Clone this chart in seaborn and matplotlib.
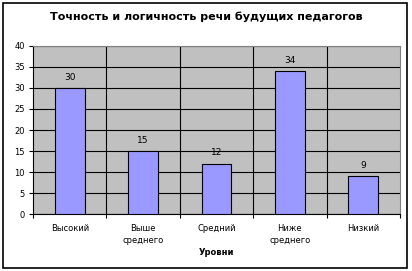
import matplotlib
matplotlib.use("Agg")
import matplotlib.pyplot as plt
import seaborn as sns
import pandas as pd
import numpy as np
from matplotlib.patches import Rectangle

categories = ["Высокий", "Выше\nсреднего", "Средний", "Ниже\nсреднего", "Низкий"]
values = [30, 15, 12, 34, 9]
title = "Точность и логичность речи будущих педагогов"
xlabel = "Уровни"
yticks = [0, 5, 10, 15, 20, 25, 30, 35, 40]

sns.set_style("white")
plt.rcParams['font.family'] = ['DejaVu Sans']
plt.rcParams['text.color'] = 'black'
plt.rcParams['axes.labelcolor'] = 'black'
plt.rcParams['xtick.color'] = 'black'
plt.rcParams['ytick.color'] = 'black'

df = pd.DataFrame({"cat": categories, "val": values})

fig = plt.figure(figsize=(4.12, 2.71), dpi=100)
ax = fig.add_axes([33/412, 1 - 214.3/271, 367/412, (214.3 - 45.7)/271])

sns.barplot(data=df, x="cat", y="val", color="#9999FF", width=0.405,
            saturation=1, edgecolor="black", linewidth=0.8, ax=ax, zorder=3)

ax.set_facecolor("#C0C0C0")
ax.set_ylim(0, 40)
ax.set_xlim(-0.5, len(categories) - 0.5)
ax.set_yticks(yticks)
ax.set_yticklabels([str(t) for t in yticks], fontsize=6)
ax.yaxis.grid(True, color="black", linewidth=0.8, zorder=1)
ax.set_axisbelow(True)
for b in np.arange(0.5, len(categories) - 0.5, 1.0):
    ax.axvline(b, color="black", linewidth=0.8, zorder=1)

ax.set_xticks(range(len(categories)))
ax.set_xticklabels(categories, fontsize=6, linespacing=1.4)
ax.set_xticks(np.arange(-0.5, len(categories), 1.0), minor=True)
ax.tick_params(axis="x", which="major", length=0, pad=7, bottom=True)
ax.tick_params(axis="x", which="minor", length=3, width=0.8, direction="out", color="black", bottom=True)
ax.tick_params(axis="y", which="major", length=3, width=0.8, direction="out", color="black", pad=3, left=True)

for s in ["top", "right"]:
    ax.spines[s].set_color("gray")
    ax.spines[s].set_linewidth(0.8)
for s in ["left", "bottom"]:
    ax.spines[s].set_color("black")
    ax.spines[s].set_linewidth(0.8)

for i, v in enumerate(values):
    ax.text(i, v + 1.5, str(v), ha="center", va="bottom", fontsize=6.5, color="black", zorder=4)

ax.set_xlabel(xlabel, fontsize=6, fontweight="bold", labelpad=2)
ax.set_ylabel("")
fig.text(0.5, 1 - 17/271, title, ha="center", va="center", fontsize=8, fontweight="bold", color="black")

fig.patches.append(Rectangle((3/412, 3/271), 404/412, 265/271, transform=fig.transFigure,
                             fill=False, edgecolor="black", linewidth=1.2))

fig.savefig("out.png", dpi=100)
